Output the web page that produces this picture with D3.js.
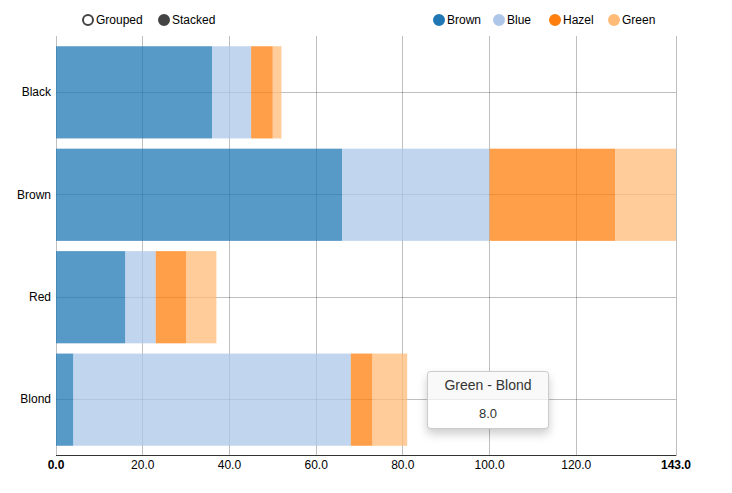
<!DOCTYPE html>
<html><head><meta charset="utf-8">
<script src="https://cdn.jsdelivr.net/npm/d3@7"></script>
<style>
body{margin:0;background:#fff;font-family:Arial,"Liberation Sans",sans-serif;}
#wrap{position:relative;width:732px;height:493px;}
.tip{position:absolute;background:#fff;border:1px solid rgba(0,0,0,.2);border-radius:4px;box-shadow:0 5px 10px rgba(0,0,0,.2);font-size:13px;color:#333;overflow:hidden;}
.tip .h{background:rgba(247,247,247,.75);border-bottom:1px solid #ebebeb;text-align:center;font-size:14px;padding:5px 14px 6px;}
.tip .v{text-align:center;padding:6px 14px 7px;}
</style></head>
<body><div id="wrap"></div>
<script>
const hairColors = ["Black","Brown","Red","Blond"];
const eyeSeries = ["Brown","Blue","Hazel","Green"];
const seriesColors = ["#1f77b4","#aec7e8","#ff7f0e","#ffbb78"];
const brownEyes = [36,66,16,4];
const blueEyes = [9,34,7,64];
const hazelEyes = [5,29,7,5];
const greenEyes = [2,14,7,8];
const xTicks = [0,20,40,60,80,100,120,143];
const values = [brownEyes,blueEyes,hazelEyes,greenEyes];

const W=732,H=493, m={top:36,left:56};
const iw=676-56, ih=456-36;
const wrap=d3.select("#wrap");
const svg=wrap.append("svg").attr("width",W).attr("height",H);
const g=svg.append("g").attr("transform",`translate(${m.left},${m.top})`);

const y=d3.scaleBand().domain(hairColors).range([0,ih]).paddingInner(0.1).paddingOuter(0.1);
const x=d3.scaleLinear().domain([0,143]).range([0,iw]);

// grid lines
const grid="rgba(0,0,0,0.25)";
g.selectAll(".vg").data(xTicks).join("line").attr("x1",d=>x(d)).attr("x2",d=>x(d)).attr("y1",0).attr("y2",ih).attr("stroke",grid).attr("shape-rendering","crispEdges");
g.selectAll(".hg").data(hairColors).join("line").attr("x1",0).attr("x2",iw).attr("y1",d=>y(d)+y.bandwidth()/2).attr("y2",d=>y(d)+y.bandwidth()/2).attr("stroke",grid).attr("shape-rendering","crispEdges");

// stacked data
const rows=hairColors.map((h,i)=>{const o={hair:h};eyeSeries.forEach((s,j)=>o[s]=values[j][i]);return o;});
const stack=d3.stack().keys(eyeSeries)(rows);
g.selectAll(".ser").data(stack).join("g").attr("fill",(d,i)=>seriesColors[i]).attr("fill-opacity",0.75)
 .selectAll("rect").data(d=>d).join("rect")
 .attr("x",d=>x(d[0])).attr("width",d=>x(d[1])-x(d[0]))
 .attr("y",d=>y(d.data.hair)).attr("height",y.bandwidth());

// category labels
g.selectAll(".cl").data(hairColors).join("text").attr("x",-5).attr("y",d=>y(d)+y.bandwidth()/2).attr("dy","0.32em")
 .attr("text-anchor","end").attr("font-size",12).attr("fill","#000").text(d=>d);

// bottom axis
g.append("line").attr("x1",0).attr("x2",iw).attr("y1",ih-0.5).attr("y2",ih-0.5).attr("stroke","#333");
g.selectAll(".tl").data(xTicks).join("text").attr("x",d=>x(d)).attr("y",ih+9).attr("dy","0.32em")
 .attr("text-anchor","middle").attr("font-size",12).attr("fill","#000")
 .attr("font-weight",(d,i)=>(i===0||i===xTicks.length-1)?"bold":"normal").text(d=>d3.format(".1f")(d));

// controls legend
const ctrl=[{t:"Grouped",x:88,on:false},{t:"Stacked",x:164,on:true}];
const cg=svg.selectAll(".ctrl").data(ctrl).join("g").attr("transform",d=>`translate(${d.x},20)`);
cg.append("circle").attr("r",5).attr("stroke","#444").attr("stroke-width",2).attr("fill",d=>d.on?"#444":"#fff");
cg.append("text").attr("x",8).attr("dy","0.32em").attr("font-size",12).attr("fill","#000").text(d=>d.t);

// series legend
const lx=[439,499,555,614];
const lg=svg.selectAll(".leg").data(eyeSeries).join("g").attr("transform",(d,i)=>`translate(${lx[i]},20)`);
lg.append("circle").attr("r",5).attr("stroke-width",2).attr("stroke",(d,i)=>seriesColors[i]).attr("fill",(d,i)=>seriesColors[i]);
lg.append("text").attr("x",8).attr("dy","0.32em").attr("font-size",12).attr("fill","#000").text(d=>d);

// tooltip
const tip=wrap.append("div").attr("class","tip").style("left","427px").style("top","371px").style("width","120px");
tip.append("div").attr("class","h").text(eyeSeries[3]+" - "+hairColors[3]);
tip.append("div").attr("class","v").text(d3.format(".1f")(greenEyes[3]));
</script></body></html>
